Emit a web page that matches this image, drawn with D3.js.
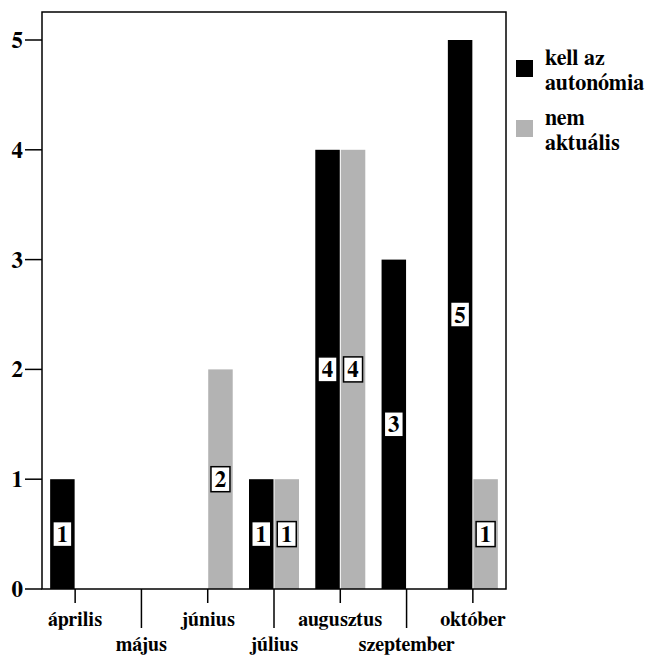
<!DOCTYPE html>
<html>
<head>
<meta charset="utf-8">
<script src="https://cdn.jsdelivr.net/npm/d3@7"></script>
</head>
<body style="margin:0">
<svg id="chart" width="654" height="655"></svg>
<script>
const months = ['április', 'május', 'június', 'július', 'augusztus', 'szeptember', 'október'];
const kell_values = [1, 0, 0, 1, 4, 3, 5];
const nem_values = [0, 0, 2, 1, 4, 0, 1];
const series_names = ['kell az autonómia', 'nem aktuális'];
const y_ticks = [0, 1, 2, 3, 4, 5];
const font_names = ['Nimbus Roman', 'FreeSerif', 'Tinos', 'Liberation Serif'];

// font on each text element
function serif(sel, size) {
    return sel.attr('font-family', font_names.join(', '))
        .style('font-family', font_names.map(f => `"${f}"`).join(', '))
        .attr('font-weight', 'bold')
        .attr('font-size', size);
}

function render() {
    const svg = d3.select('#chart');
    const left = 42, right = 506, top = 12, bottom = 589;
    const colors = ['#000000', '#b3b3b3'];

    const x = d3.scaleBand().domain(months).range([left, right]);
    const x_inner = d3.scaleBand().domain([0, 1]).range([-25, 25]).paddingInner(0.04);
    const y = d3.scaleLinear().domain([0, 5]).range([bottom, 40]);

    const rows = months.map((m, i) => ({ month: m, values: [kell_values[i], nem_values[i]] }));

    // bars
    const groups = svg.selectAll('g.month')
        .data(rows)
        .join('g')
        .attr('class', 'month')
        .attr('transform', d => `translate(${x(d.month) + x.bandwidth() / 2},0)`);

    groups.selectAll('rect.bar')
        .data(d => d.values.map((v, s) => ({ v, s })))
        .join('rect')
        .attr('class', 'bar')
        .attr('x', d => x_inner(d.s))
        .attr('width', x_inner.bandwidth())
        .attr('y', d => y(d.v))
        .attr('height', d => y(0) - y(d.v))
        .attr('fill', d => colors[d.s]);

    // value boxes
    const labels = groups.selectAll('g.vlabel')
        .data(d => d.values.map((v, s) => ({ v, s })).filter(d => d.v > 0))
        .join('g')
        .attr('class', 'vlabel')
        .attr('transform', d => `translate(${x_inner(d.s) + x_inner.bandwidth() / 2},${y(d.v / 2)})`);
    labels.append('rect')
        .attr('x', -9.5).attr('y', -12.5)
        .attr('width', 19).attr('height', 25)
        .attr('fill', '#fff').attr('stroke', '#000').attr('stroke-width', 1.5);
    serif(labels.append('text'), 23)
        .attr('text-anchor', 'middle')
        .attr('y', 8)
        .text(d => d.v);

    // frame
    svg.append('rect')
        .attr('x', left).attr('y', top)
        .attr('width', right - left).attr('height', bottom - top)
        .attr('fill', 'none').attr('stroke', '#000').attr('stroke-width', 1.5);

    // y axis
    const ya = svg.append('g');
    ya.selectAll('line')
        .data(y_ticks)
        .join('line')
        .attr('x1', 25).attr('x2', left)
        .attr('y1', d => y(d)).attr('y2', d => y(d))
        .attr('stroke', '#000').attr('stroke-width', 1.5);
    serif(ya.selectAll('text').data(y_ticks).join('text'), 23)
        .attr('x', 23).attr('y', d => y(d) + 8)
        .attr('text-anchor', 'end')
        .text(d => d);

    // x axis, staggered labels
    const xa = svg.append('g');
    xa.selectAll('line')
        .data(months)
        .join('line')
        .attr('x1', d => x(d) + x.bandwidth() / 2).attr('x2', d => x(d) + x.bandwidth() / 2)
        .attr('y1', bottom)
        .attr('y2', (d, i) => i % 2 ? 628 : 603)
        .attr('stroke', '#000').attr('stroke-width', 1.5);
    serif(xa.selectAll('text').data(months).join('text'), 20)
        .attr('x', d => x(d) + x.bandwidth() / 2)
        .attr('y', (d, i) => i % 2 ? 651 : 626)
        .attr('text-anchor', 'middle')
        .text(d => d);

    // legend
    const legend_lines = [['kell az', 'autonómia'], ['nem', 'aktuális']];
    const lg = svg.selectAll('g.legend')
        .data(series_names)
        .join('g')
        .attr('class', 'legend')
        .attr('transform', (d, i) => `translate(516,${60 + i * 60})`);
    lg.append('rect')
        .attr('width', 17).attr('height', 17)
        .attr('fill', (d, i) => colors[i]);
    serif(lg.selectAll('text')
        .data((d, i) => legend_lines[i])
        .join('text'), 22)
        .attr('x', 29)
        .attr('y', (d, j) => 5 + j * 25)
        .text(d => d);
}

render();
</script>
</body>
</html>
